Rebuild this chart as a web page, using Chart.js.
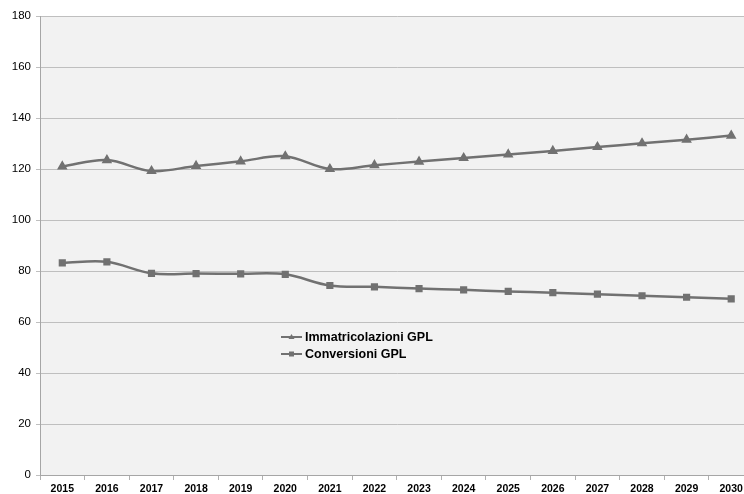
<!DOCTYPE html>
<html><head><meta charset="utf-8">
<script src="https://cdn.jsdelivr.net/npm/chart.js@4/dist/chart.umd.min.js"></script>
<style>html,body{margin:0;padding:0;background:#fff;overflow:hidden;width:744px;height:494px}#wrap{position:absolute;left:0;top:0;width:760px;height:494px}</style>
</head><body><div id="wrap"><canvas id="c" width="760" height="494"></canvas></div>
<script>
const years = ['2015','2016','2017','2018','2019','2020','2021','2022','2023','2024','2025','2026','2027','2028','2029','2030'];
const immatricolazioni = [121, 123.5, 119.2, 121.2, 123, 125, 120, 121.5, 122.9, 124.3, 125.7, 127.1, 128.6, 130.1, 131.5, 133.1];
const conversioni = [83.2, 83.6, 79.1, 79, 78.9, 78.7, 74.3, 73.8, 73.1, 72.6, 72.0, 71.5, 70.9, 70.3, 69.7, 69.1];
const seriesNames = ['Immatricolazioni GPL', 'Conversioni GPL'];
const yTicks = [0, 20, 40, 60, 80, 100, 120, 140, 160, 180];

const grey = '#717171';
const bgPlugin = {
  id: 'bg',
  beforeDraw(chart) {
    const a = chart.chartArea, ctx = chart.ctx;
    ctx.save(); ctx.fillStyle = '#f2f2f2';
    ctx.fillRect(a.left, a.top, a.right - a.left, a.bottom - a.top);
    ctx.restore();
  }
};
const legendPlugin = {
  id: 'customLegend',
  afterDraw(chart) {
    const ctx = chart.ctx;
    const items = chart.data.datasets;
    const x0 = 281, ys = [337, 354];
    ctx.save();
    items.forEach((ds, i) => {
      const y = ys[i];
      ctx.strokeStyle = grey; ctx.lineWidth = 2;
      ctx.beginPath(); ctx.moveTo(x0, y); ctx.lineTo(x0 + 21, y); ctx.stroke();
      ctx.fillStyle = grey;
      const cx = x0 + 10.5;
      if (ds.pointStyle === 'triangle') {
        ctx.beginPath(); ctx.moveTo(cx, y - 3); ctx.lineTo(cx + 3, y + 2); ctx.lineTo(cx - 3, y + 2); ctx.closePath(); ctx.fill();
      } else {
        ctx.fillRect(cx - 2.5, y - 2.5, 5, 5);
      }
      ctx.fillStyle = '#000';
      ctx.font = 'bold 12.5px "Liberation Sans", Arial, sans-serif';
      ctx.textBaseline = 'middle';
      ctx.fillText(ds.label, x0 + 24, y + 0.5);
    });
    ctx.restore();
  }
};

new Chart(document.getElementById('c'), {
  type: 'line',
  data: {
    labels: years,
    datasets: [
      { label: seriesNames[0], data: immatricolazioni, borderColor: grey, backgroundColor: grey, borderWidth: 2.5,
        pointStyle: 'triangle', pointRadius: 3.6, tension: 0.35 },
      { label: seriesNames[1], data: conversioni, borderColor: grey, backgroundColor: grey, borderWidth: 2.5,
        pointStyle: 'rect', pointRadius: 3.3, tension: 0.35 }
    ]
  },
  options: {
    responsive: false, animation: false,
    layout: { padding: { top: 16, right: 4, left: 0, bottom: 0 } },
    plugins: { legend: { display: false }, tooltip: { enabled: false } },
    scales: {
      x: {
        offset: true,
        grid: { offset: true, drawOnChartArea: false, color: '#a6a6a6', tickLength: 5, tickColor: '#b0b0b0' },
        border: { color: '#a6a6a6', width: 1 },
        ticks: { color: '#000', font: { family: '"Liberation Sans", Arial, sans-serif', weight: 'bold', size: 10.5 }, maxRotation: 0, autoSkip: false, padding: 3 },
        afterFit(s) { s.height = 19; }
      },
      y: {
        min: 0, max: 180,
        afterBuildTicks(s) { s.ticks = yTicks.map(v => ({ value: v })); },
        grid: { color: '#bfbfbf', tickLength: 4, lineWidth: 1 },
        border: { color: '#a6a6a6', width: 1 },
        ticks: { color: '#000', font: { family: '"Liberation Sans", Arial, sans-serif', size: 11.5 }, padding: 5 },
        afterFit(s) { s.width = 40; }
      }
    }
  },
  plugins: [bgPlugin, legendPlugin]
});
</script></body></html>
